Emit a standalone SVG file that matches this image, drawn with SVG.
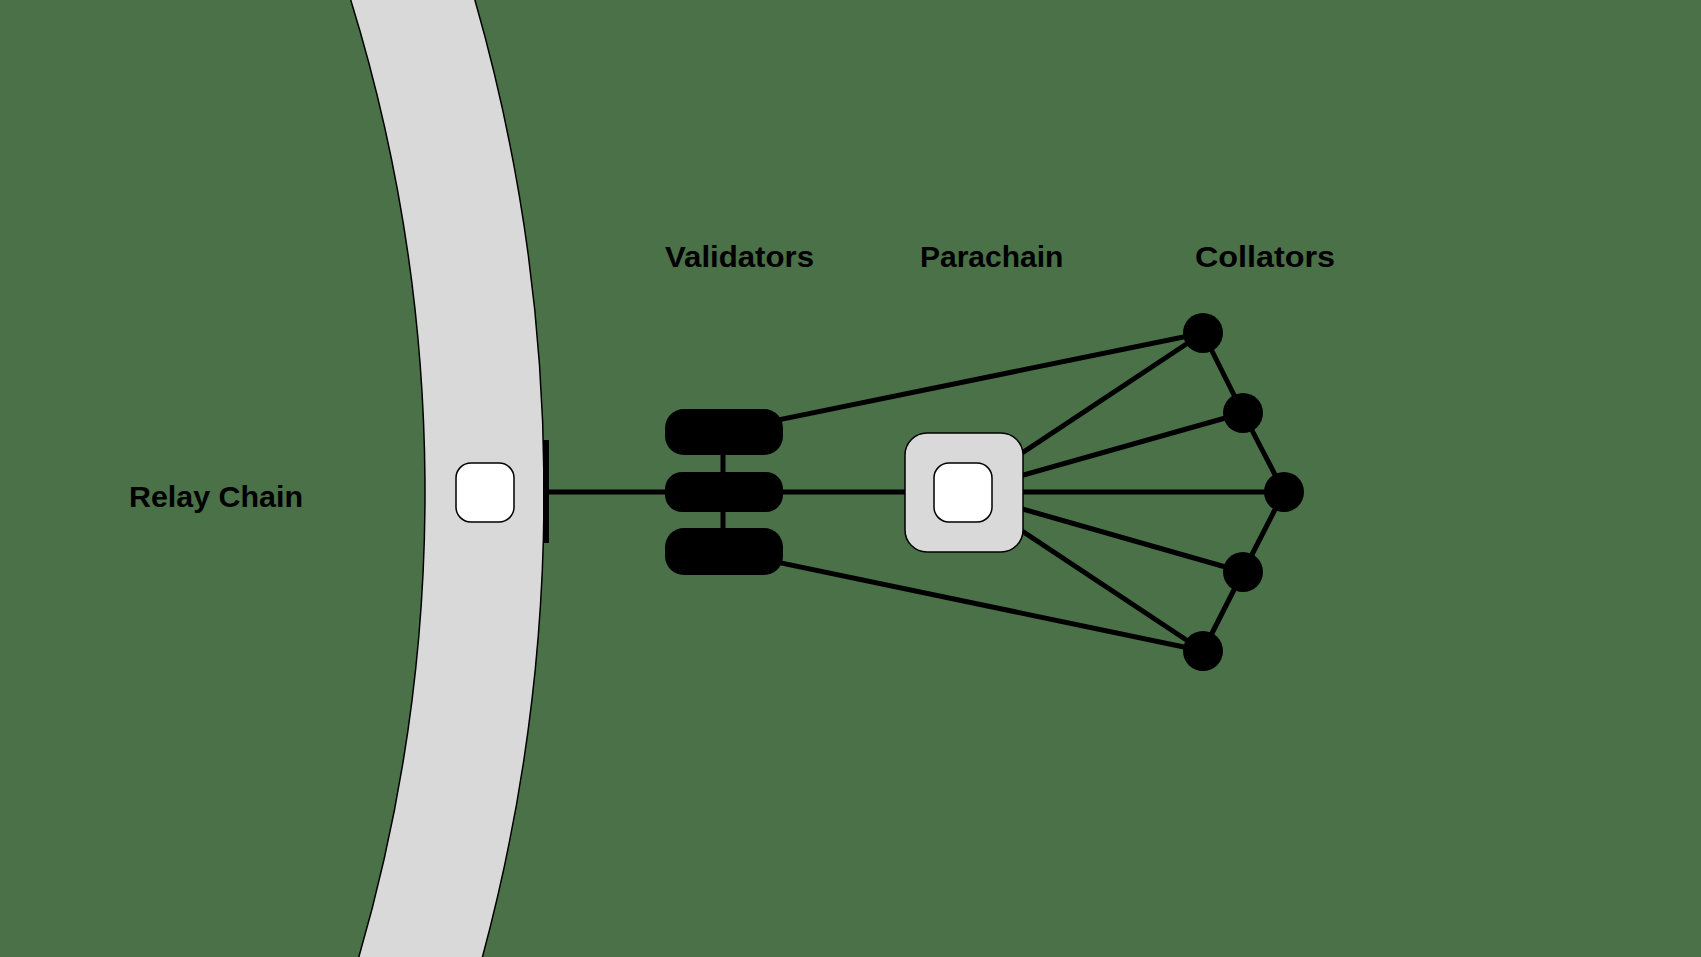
<svg xmlns="http://www.w3.org/2000/svg" width="1701" height="957" viewBox="0 0 1701 957">
<style>
.lbl{font-family:"Liberation Sans",Arial,sans-serif;font-weight:bold;font-size:30px;fill:#000}
.edge{stroke:#000;stroke-width:5;fill:none;stroke-linecap:round}
.gray{fill:#d9d9d9;stroke:#000;stroke-width:1.5}
.white{fill:#fff;stroke:#000;stroke-width:1.5}
.blk{fill:#000}
</style>
<rect x="0" y="0" width="1701" height="957" fill="#4b7149"/>
<g id="relay-chain">
<path class="gray" d="M347.6,-10 A1667,1667 0 0 1 355.9,967 L479.7,967 A1786,1786 0 0 0 472,-10 Z"/>
<rect x="543" y="440" width="6" height="103" class="blk"/>
<rect x="456" y="463" width="58" height="59" rx="15" class="white"/>
<text class="lbl" x="129" y="507" textLength="174" lengthAdjust="spacingAndGlyphs">Relay Chain</text>
</g>
<g id="connectors">
<line class="edge" x1="546" y1="492" x2="963" y2="492"/>
<line class="edge" x1="723" y1="431" x2="723" y2="551"/>
<line class="edge" x1="724" y1="431" x2="1203" y2="333"/>
<line class="edge" x1="724" y1="551" x2="1203" y2="651"/>
<line class="edge" x1="963" y1="492" x2="1203" y2="333"/>
<line class="edge" x1="963" y1="492" x2="1243" y2="413"/>
<line class="edge" x1="963" y1="492" x2="1284" y2="492"/>
<line class="edge" x1="963" y1="492" x2="1243" y2="572"/>
<line class="edge" x1="963" y1="492" x2="1203" y2="651"/>
<polyline class="edge" points="1203,333 1243,413 1284,492 1243,572 1203,651"/>
</g>
<g id="validators">
<rect x="665" y="409" width="118" height="46" rx="19" class="blk"/>
<rect x="665" y="472" width="118" height="40" rx="17" class="blk"/>
<rect x="665" y="528" width="118" height="47" rx="19" class="blk"/>
<text class="lbl" x="665" y="267" textLength="149" lengthAdjust="spacingAndGlyphs">Validators</text>
</g>
<g id="parachain">
<rect x="905" y="433" width="118" height="119" rx="22" class="gray"/>
<rect x="934" y="463" width="58" height="59" rx="15" class="white"/>
<text class="lbl" x="920" y="267">Parachain</text>
</g>
<g id="collators">
<circle cx="1203" cy="333" r="20" class="blk"/>
<circle cx="1243" cy="413" r="20" class="blk"/>
<circle cx="1284" cy="492" r="20" class="blk"/>
<circle cx="1243" cy="572" r="20" class="blk"/>
<circle cx="1203" cy="651" r="20" class="blk"/>
<text class="lbl" x="1195" y="267" textLength="140" lengthAdjust="spacingAndGlyphs">Collators</text>
</g>
</svg>
